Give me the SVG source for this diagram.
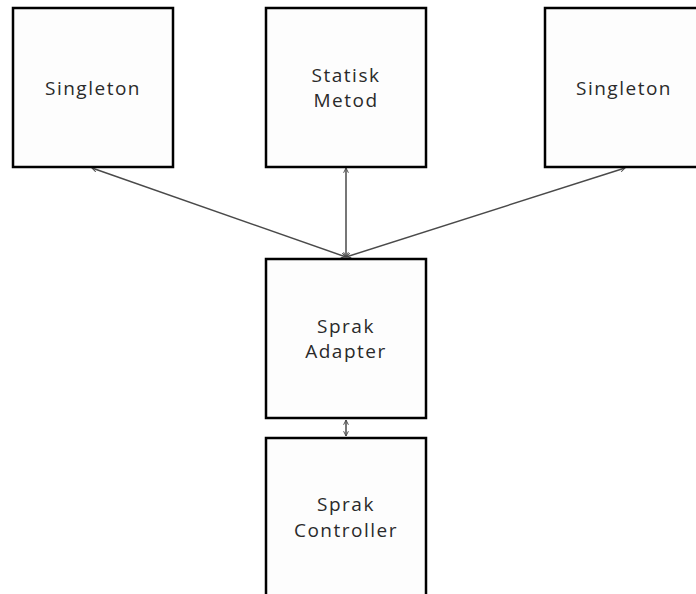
<svg xmlns="http://www.w3.org/2000/svg" width="696" height="594" viewBox="0 0 696 594">
  <defs>
    <style>
      .box { fill: #fdfdfd; stroke: #000; stroke-width: 2.5; }
      .lbl { font-family: "Open Sans", "Liberation Sans", sans-serif; font-size: 19px; fill: #2a2a2a; text-anchor: middle; letter-spacing: 1.5px; }
      .conn { stroke: #4a4a4a; stroke-width: 1.5; fill: none; marker-start: url(#head); marker-end: url(#head); }
    </style>
    <marker id="head" viewBox="0 0 10 10" refX="9" refY="5" markerWidth="6" markerHeight="6" orient="auto-start-reverse" markerUnits="userSpaceOnUse">
      <path d="M1,1 L9,5 L1,9" fill="none" stroke="#4a4a4a" stroke-width="1.6"/>
    </marker>
  </defs>
  <rect width="696" height="594" fill="#fff"/>

  <g id="connectors">
    <line class="conn" x1="346" y1="257" x2="92" y2="168"/>
    <line class="conn" x1="346" y1="257" x2="346" y2="168"/>
    <line class="conn" x1="346" y1="257" x2="625" y2="168"/>
    <line class="conn" x1="346" y1="420" x2="346" y2="436"/>
  </g>

  <g id="singleton-left">
    <rect class="box" x="13" y="8" width="160" height="159"/>
    <text class="lbl" x="93" y="95">Singleton</text>
  </g>

  <g id="statisk-metod">
    <rect class="box" x="266" y="8" width="160" height="159"/>
    <text class="lbl" x="346" y="82">Statisk</text>
    <text class="lbl" x="346" y="107">Metod</text>
  </g>

  <g id="singleton-right">
    <rect class="box" x="545" y="8" width="160" height="159"/>
    <text class="lbl" x="624" y="95">Singleton</text>
  </g>

  <g id="sprak-adapter">
    <rect class="box" x="266" y="259" width="160" height="159"/>
    <text class="lbl" x="346" y="333">Sprak</text>
    <text class="lbl" x="346" y="358">Adapter</text>
  </g>

  <g id="sprak-controller">
    <rect class="box" x="266" y="438" width="160" height="170"/>
    <text class="lbl" x="346" y="511">Sprak</text>
    <text class="lbl" x="346" y="537">Controller</text>
  </g>
</svg>
